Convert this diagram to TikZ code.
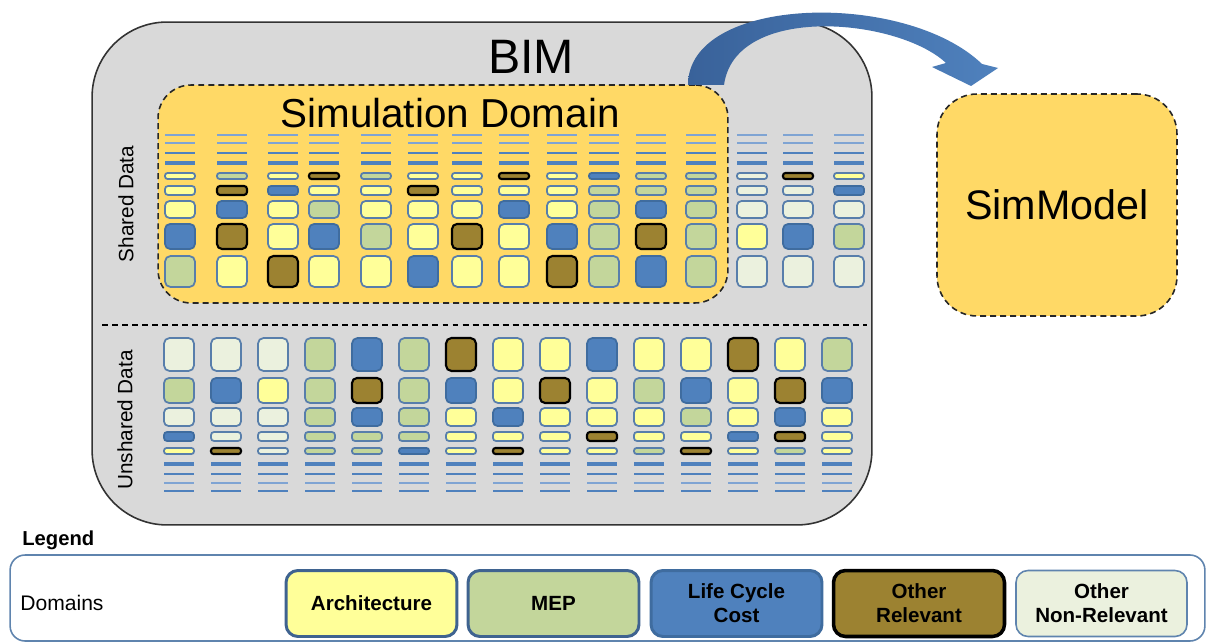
\documentclass[tikz,border=0pt]{standalone}
\usepackage{fontspec}
\setmainfont{Liberation Sans}
\definecolor{cA}{HTML}{FFFF99}
\definecolor{cM}{HTML}{C3D69B}
\definecolor{cL}{HTML}{4F81BD}
\definecolor{cO}{HTML}{9C8231}
\definecolor{cN}{HTML}{EBF1DE}
\definecolor{bd}{HTML}{587EAB}
\definecolor{bdL}{HTML}{3F6C9F}
\definecolor{gold}{HTML}{FFD966}
\definecolor{bimgray}{HTML}{D9D9D9}
\definecolor{lineB}{HTML}{4F81BD}
\definecolor{lineL}{HTML}{7FA4D3}
\definecolor{arrL}{HTML}{39629A}
\definecolor{arrR}{HTML}{4F81BD}
\definecolor{legbd}{HTML}{5F84AE}
\definecolor{legbdd}{HTML}{3F6390}
\begin{document}
\begin{tikzpicture}[x=0.02cm,y=-0.02cm,
  cell/.style={rectangle, inner sep=0pt, outer sep=0pt, line width=1pt, minimum width=0.6cm},
  dA/.style={cell, fill=cA, draw=bd},
  dM/.style={cell, fill=cM, draw=bd},
  dL/.style={cell, fill=cL, draw=bdL},
  dO/.style={cell, fill=cO, draw=black, line width=1.2pt},
  dN/.style={cell, fill=cN, draw=bd},
  r1/.style={minimum height=0.12cm, rounded corners=0.05cm},
  r2/.style={minimum height=0.18cm, rounded corners=0.06cm},
  r3/.style={minimum height=0.34cm, rounded corners=0.09cm},
  r4/.style={minimum height=0.5cm, rounded corners=0.1cm},
  r5/.style={minimum height=0.62cm, rounded corners=0.11cm},
  r6/.style={minimum height=0.66cm, rounded corners=0.11cm},
  r7/.style={minimum height=0.36cm, rounded corners=0.09cm},
  dashline/.style={dash pattern=on 3.4pt off 2.3pt},
  goldbox/.style={rectangle, fill=gold, draw=black!85, line width=0.9pt, dashline, inner sep=0pt},
  legbox/.style={rectangle, rounded corners=0.24cm, minimum width=3.42cm, minimum height=1.32cm,
    align=center, inner sep=0pt, font=\bfseries\fontsize{11.7}{13.7}\selectfont},
  thinl/.style={line width=0.8pt, lineL},
  midl/.style={line width=1.1pt, lineL},
  thickl/.style={line width=1.6pt, lineB},
  fatl/.style={line width=2.2pt, lineB}
]
\useasboundingbox (0,0) rectangle (1216,644);
\fill[white] (0,0) rectangle (1216,644);

% main boxes
\node[rectangle, fill=bimgray, draw=black!80, line width=0.9pt, rounded corners=1.5cm,
      minimum width=15.6cm, minimum height=10.06cm, inner sep=0pt] (bim) at (482,273.5) {};
\node[goldbox, rounded corners=0.66cm, minimum width=11.4cm, minimum height=4.36cm] (sim) at (443,194) {};
\node[goldbox, rounded corners=0.8cm, minimum width=4.8cm, minimum height=4.44cm,
      font=\fontsize{23.5}{28}\selectfont] (simmodel) at (1057,205) {SimModel};

\node[font=\fontsize{27.5}{33}\selectfont] (bimlabel) at (531,57) {BIM};
\node[font=\fontsize{23}{28}\selectfont] (simlabel) at (450,113) {Simulation Domain};
\node[rotate=90, font=\fontsize{11.8}{14}\selectfont] (shared) at (126,204) {Shared Data};
\node[rotate=90, font=\fontsize{11.8}{14}\selectfont] (unshared) at (125,420) {Unshared Data};

% shared data grid
\def\topxs{{180,232,283,324,376,423,467,514,562,604,651,701,752,798,849}}
\foreach \xx in {180,232,283,324,376,423,467,514,562,604,651,701,752,798,849} {
  \draw[thinl] (\xx-15,135) -- (\xx+15,135);
  \draw[midl] (\xx-15,143) -- (\xx+15,143);
  \draw[thickl] (\xx-15,153) -- (\xx+15,153);
  \draw[fatl] (\xx-15,163) -- (\xx+15,163);
}
\foreach \yy/\hs/\list [count=\r] in {
  176/r1/{dA,dM,dA,dO,dM,dA,dA,dO,dA,dL,dM,dM,dN,dO,dA},
  190.5/r2/{dA,dO,dL,dA,dA,dO,dA,dA,dA,dM,dM,dM,dN,dN,dL},
  209.5/r3/{dA,dL,dA,dM,dA,dA,dA,dL,dA,dM,dL,dM,dN,dN,dN},
  236.5/r4/{dL,dO,dA,dL,dM,dA,dO,dA,dL,dM,dO,dM,dA,dL,dM},
  271.5/r5/{dM,dA,dO,dA,dA,dL,dA,dA,dO,dM,dL,dM,dN,dN,dN}} {
  \foreach \s [count=\i] in \list {
    \pgfmathsetmacro\xx{\topxs[\i-1]}
    \node[\s,\hs] (t\r-\i) at (\xx,\yy) {};
  }
}

% separator
\coordinate (sepL) at (102,325);
\coordinate (sepR) at (867,325);
\draw[dashline, line width=1.1pt] (sepL) -- (sepR);

% unshared data grid
\foreach \yy/\hs/\list [count=\r] in {
  354.5/r6/{dN,dN,dN,dM,dL,dM,dO,dA,dA,dL,dA,dA,dO,dA,dM},
  390.5/r4/{dM,dL,dA,dM,dO,dM,dL,dA,dO,dA,dM,dL,dA,dO,dL},
  417/r7/{dN,dN,dN,dM,dL,dM,dA,dL,dA,dA,dA,dM,dA,dL,dA},
  436.5/r2/{dL,dN,dN,dM,dM,dM,dA,dA,dA,dO,dA,dA,dL,dO,dA},
  451/r1/{dA,dO,dN,dM,dM,dL,dA,dO,dA,dA,dM,dO,dA,dM,dA}} {
  \foreach \s [count=\i] in \list {
    \pgfmathsetmacro\xx{179+47*(\i-1)}
    \node[\s,\hs] (u\r-\i) at (\xx,\yy) {};
  }
}
\foreach \i in {0,...,14} {
  \pgfmathsetmacro\xx{179+47*\i}
  \draw[fatl] (\xx-15,464) -- (\xx+15,464);
  \draw[line width=1.5pt, lineB] (\xx-15,474) -- (\xx+15,474);
  \draw[midl] (\xx-15,483) -- (\xx+15,483);
  \draw[line width=1.3pt, lineB] (\xx-15,491) -- (\xx+15,491);
}

% curved arrow from Simulation Domain to SimModel
\shade[left color=arrL, right color=arrR]
  (688,85) .. controls (688,-5) and (905,-10) .. (982,64)
  -- (998,68) -- (971,86) -- (932,67) -- (946,63)
  .. controls (898,18) and (735,3) .. (724,85) -- cycle;

% legend
\node[font=\bfseries\fontsize{11.5}{14}\selectfont, anchor=base west, inner sep=0pt] (legtitle) at (22,545) {Legend};
\node[rectangle, draw=legbd, line width=0.9pt, rounded corners=0.3cm,
      minimum width=23.9cm, minimum height=1.72cm, inner sep=0pt] (legend) at (607.5,598) {};
\node[font=\fontsize{12}{14}\selectfont, anchor=base west, inner sep=0pt] (domains) at (20,610.5) {Domains};
\node[legbox, fill=cA, draw=legbdd, line width=1.7pt] (lA) at (371.5,603.5) {Architecture};
\node[legbox, fill=cM, draw=legbdd, line width=1.7pt] (lM) at (553.5,603.5) {MEP};
\node[legbox, fill=cL, draw=bdL, line width=1.7pt] (lL) at (736.5,603.5) {Life Cycle\\Cost};
\node[legbox, fill=cO, draw=black, line width=2pt] (lO) at (919,603.5) {Other\\Relevant};
\node[legbox, fill=cN, draw=legbd, line width=0.9pt] (lN) at (1101.5,603.5) {Other\\Non-Relevant};
\end{tikzpicture}
\end{document}
